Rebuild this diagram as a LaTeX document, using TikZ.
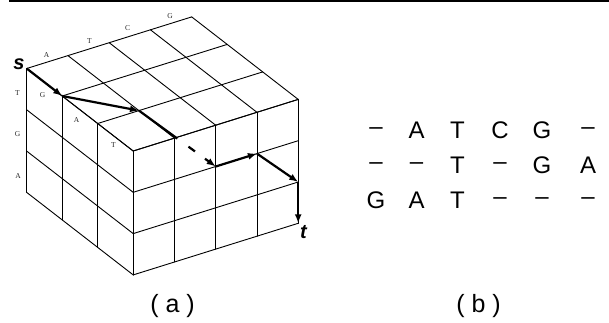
\documentclass[tikz,border=0pt]{standalone}
\usepackage{fontspec}
\setmainfont{Liberation Serif}
\setsansfont{Liberation Sans}
\usetikzlibrary{arrows.meta,calc}
\newcommand\gapdash{\raisebox{3.5pt}{–}}
\begin{document}
\begin{tikzpicture}[x=1pt,y=-1pt,
  gridline/.style={line width=0.9pt, line cap=round, line join=round},
  pathline/.style={line width=2.2pt},
  pathar/.style={pathline,-{Latex[length=9pt,width=7pt]}},
  seqlab/.style={font=\fontsize{7.5}{8}\selectfont, text=black!85, inner sep=0pt},
  aln/.style={font=\sffamily\fontsize{24}{26}\selectfont, anchor=base, inner sep=0pt},
  captext/.style={font=\sffamily\fontsize{25}{28}\selectfont, anchor=base, inner sep=0pt},
  endlab/.style={font=\sffamily\bfseries\itshape\fontsize{20}{22}\selectfont, inner sep=0pt}
]
\useasboundingbox (0,0) rectangle (609,322);
% top rule
\draw[line width=2pt] (9,1) -- (609,1);
% lattice points
\foreach \u in {0,...,4}
  \foreach \v in {0,...,3}
    \foreach \w in {0,...,3}
      \coordinate (c\u\v\w) at ({26.7+41.25*\u+35.5*\v},{68.5-12.9*\u+27.5*\v+41.3*\w});
% top face
\foreach \v in {0,...,3} \draw[gridline] (c0\v0) -- (c4\v0);
\foreach \u in {0,...,4} \draw[gridline] (c\u00) -- (c\u30);
% left face
\foreach \w in {0,...,3} \draw[gridline] (c00\w) -- (c03\w);
\foreach \v in {0,...,3} \draw[gridline] (c0\v0) -- (c0\v3);
% front-right face
\foreach \w in {0,...,3} \draw[gridline] (c03\w) -- (c43\w);
\foreach \u in {0,...,4} \draw[gridline] (c\u30) -- (c\u33);
% sequence labels
\node[seqlab] (la1) at (46.7,55) {A};
\node[seqlab] (la2) at (89.3,41) {T};
\node[seqlab] (la3) at (127.7,28.3) {C};
\node[seqlab] (la4) at (170,16) {G};
\node[seqlab] (lb1) at (17.5,93.5) {T};
\node[seqlab] (lb2) at (17.5,134) {G};
\node[seqlab] (lb3) at (18,176) {A};
\node[seqlab] (lc1) at (42.5,95.5) {G};
\node[seqlab] (lc2) at (76.7,120) {A};
\node[seqlab] (lc3) at (113.3,145) {T};
% path
\draw[pathar] (c000) -- (c010);
\draw[pathar] (c010) -- (c120);
\draw[pathline] (c120) -- ($(c120)!0.5!(c231)$);
\draw[pathline] ($(c120)!0.645!(c231)$) -- ($(c120)!0.73!(c231)$);
\draw[pathar] ($(c120)!0.86!(c231)$) -- (c231);
\draw[pathar] (c231) -- (c331);
\draw[pathar] (c331) -- (c432);
\draw[pathar] (c432) -- (c433);
\node[endlab] (s) at (19,64) {s};
\node[endlab] (t) at (303.5,232.5) {t};
% alignment
\node[aln] (r1a) at (376,138.3) {\gapdash};
\node[aln] (r1b) at (416.5,138.3) {A};
\node[aln] (r1c) at (457.5,138.3) {T};
\node[aln] (r1d) at (500,138.3) {C};
\node[aln] (r1e) at (542,138.3) {G};
\node[aln] (r1f) at (588,138.3) {\gapdash};
\node[aln] (r2a) at (376,173.3) {\gapdash};
\node[aln] (r2b) at (416.5,173.3) {\gapdash};
\node[aln] (r2c) at (457.5,173.3) {T};
\node[aln] (r2d) at (500,173.3) {\gapdash};
\node[aln] (r2e) at (542,173.3) {G};
\node[aln] (r2f) at (588,173.3) {A};
\node[aln] (r3a) at (376,208.3) {G};
\node[aln] (r3b) at (416.5,208.3) {A};
\node[aln] (r3c) at (457.5,208.3) {T};
\node[aln] (r3d) at (500,208.3) {\gapdash};
\node[aln] (r3e) at (542,208.3) {\gapdash};
\node[aln] (r3f) at (588,208.3) {\gapdash};
% captions
\node[captext] (capa) at (172.5,312) {( a )};
\node[captext] (capb) at (478.5,312) {( b )};
\end{tikzpicture}
\end{document}
